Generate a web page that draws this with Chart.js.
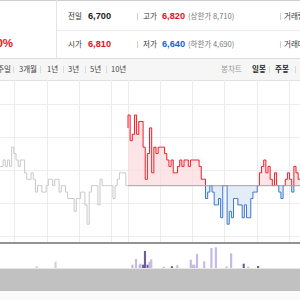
<!DOCTYPE html>
<html><head><meta charset="utf-8">
<script src="https://cdn.jsdelivr.net/npm/chart.js@4.4.1/dist/chart.umd.min.js"></script>
<style>
html,body{margin:0;padding:0;background:#fff;}
body{width:300px;height:300px;overflow:hidden;position:relative;font-family:"Noto Sans CJK KR","Noto Sans",sans-serif;}
.a{position:absolute;white-space:nowrap;line-height:10px;height:10px;}
.lb{font-size:7.5px;color:#333;}
.num{font-family:"Liberation Sans",Arial,sans-serif;font-weight:bold;font-size:9.2px;color:#222;}
.red{color:#e3121b;}
.blue{color:#1b5fd0;}
.sub{font-size:7.5px;color:#777;}
.sep{position:absolute;width:1px;background:#cfcfcf;}
.tb{font-size:7.5px;color:#444;}
#hdrTop{position:absolute;left:0;top:0;width:300px;height:1px;background:#cfcfcf;}
#vdiv{position:absolute;left:56px;top:0;width:1px;height:58px;background:#e4e4e4;}
#hdiv{position:absolute;left:57px;top:30px;width:243px;height:1px;background:#ececec;}
#toolbar{position:absolute;left:0;top:58px;width:300px;height:21px;background:#f6f6f6;border-top:1px solid #dcdcdc;border-bottom:1px solid #e2e2e2;}
#main{position:absolute;left:0;top:80px;}
#vol{position:absolute;left:0;top:243px;}
#volTop{position:absolute;left:0;top:242px;width:300px;height:2px;background:#929292;}
#scroll{position:absolute;left:0;top:268px;width:300px;height:22px;background:#c1c1c1;border-top:1px solid #e6e6e6;}
#below{position:absolute;left:0;top:291px;width:300px;height:9px;background:#fafafa;}
</style></head>
<body>
<div id="hdrTop"></div>
<div id="vdiv"></div>
<div id="hdiv"></div>
<div class="a red" style="left:-3.6px;top:37px;height:12px;line-height:12px;font-family:'Liberation Sans',Arial,sans-serif;font-weight:bold;font-size:11.5px;">0%</div>

<div class="a lb" style="left:68px;top:11px;">전일</div>
<div class="a num" style="left:88px;top:11px;">6,700</div>
<div class="sep" style="left:137px;top:13px;height:7px;"></div>
<div class="a lb" style="left:143px;top:11px;">고가</div>
<div class="a num red" style="left:162px;top:11px;">6,820</div>
<div class="a sub" style="left:188px;top:11px;">(상한가 8,710)</div>
<div class="sep" style="left:280px;top:13px;height:7px;"></div>
<div class="a lb" style="left:284px;top:11px;">거래량</div>

<div class="a lb" style="left:68px;top:39px;">시가</div>
<div class="a num red" style="left:88px;top:39px;">6,810</div>
<div class="sep" style="left:137px;top:41px;height:7px;"></div>
<div class="a lb" style="left:143px;top:39px;">저가</div>
<div class="a num blue" style="left:162px;top:39px;">6,640</div>
<div class="a sub" style="left:188px;top:39px;">(하한가 4,690)</div>
<div class="sep" style="left:280px;top:41px;height:7px;"></div>
<div class="a lb" style="left:284px;top:39px;">거래대금</div>

<div id="toolbar"></div>
<div class="a tb" style="left:-7px;top:64px;">1주일</div>
<div class="sep" style="left:13px;top:66px;height:7px;background:#dadada;"></div>
<div class="a tb" style="left:19px;top:64px;">3개월</div>
<div class="sep" style="left:40px;top:66px;height:7px;background:#dadada;"></div>
<div class="a tb" style="left:47px;top:64px;">1년</div>
<div class="sep" style="left:63px;top:66px;height:7px;background:#dadada;"></div>
<div class="a tb" style="left:68px;top:64px;">3년</div>
<div class="sep" style="left:85px;top:66px;height:7px;background:#dadada;"></div>
<div class="a tb" style="left:90px;top:64px;">5년</div>
<div class="sep" style="left:106px;top:66px;height:7px;background:#dadada;"></div>
<div class="a tb" style="left:111px;top:64px;">10년</div>
<div class="a tb" style="left:221px;top:64px;color:#999;">봉차트</div>
<div class="a tb" style="left:252px;top:64px;color:#222;font-weight:bold;">일봉</div>
<div class="sep" style="left:269px;top:66px;height:7px;background:#dadada;"></div>
<div class="a tb" style="left:275px;top:64px;color:#222;font-weight:bold;">주봉</div>
<div class="sep" style="left:295px;top:66px;height:7px;background:#dadada;"></div>

<canvas id="main" width="300" height="163"></canvas>
<canvas id="vol" width="300" height="25"></canvas>
<div id="volTop"></div>
<div id="scroll"></div>
<div id="below"></div>

<script>
// ---- data ----
const prevClose = 6700;
const intervalMin = 2;            // minutes between samples
const prevStartMin = -120;        // previous session samples, minutes relative to today's 9:00
const todayStartMin = 0;
const prevPrices = [6730,6730,6730,6740,6730,6740,6730,6760,6750,6740,6730,6740,6740,6720,6710,6710,6720,6710,6690,6700,6700,6690,6690,6700,6710,6710,6700,6710,6710,6690,6700,6700,6690,6680,6680,6680,6660,6680,6680,6690,6690,6670,6640,6690,6700,6700,6700,6670,6710,6700,6700,6700,6700,6700,6680,6700,6710,6720,6720,6720,6700];
const todayPrices = [6790,6810,6770,6780,6810,6780,6800,6800,6760,6710,6750,6790,6720,6760,6750,6760,6760,6760,6750,6740,6730,6740,6720,6720,6730,6740,6730,6740,6740,6730,6740,6740,6740,6740,6730,6710,6710,6680,6690,6700,6690,6670,6670,6680,6650,6700,6700,6640,6660,6650,6680,6680,6670,6670,6650,6670,6650,6650,6680,6690,6690,6700,6720,6730,6740,6720,6730,6710,6700,6720,6700,6690,6680,6700,6710,6720,6710,6690,6730,6720,6710];
const prevVolMinutes = [-105,-84];
const prevVolumes = [1500,6000];
const todayVolMinutes = [0,4,8,9,12,14,17,19,21,35,44,50,65,67,69,72,80,88,93,105,110,124,129,140];
const todayVolumes = [3000,8700,3000,4000,3000,16700,3000,6000,8300,1000,1500,2500,8000,3000,3000,13700,6300,19700,20300,1300,14300,4000,1000,1700];
const todayVolSide = ['u','u','u','u','d','d','d','u','u','u','d','u','u','u','u','u','u','u','u','u','u','d','u','d'];
const xGridMinutes = [-105,-75,-45,-15,0,30,60,90,120,150];
const yGridPrices = [6621,6672.5,6724,6775.5,6827];
const xRange = [-118.85,159.7];
const yRange = [6610.7,6864.6];
const volMax = 25000;

const prevSeries = prevPrices.map((v,i)=>({x:prevStartMin+i*intervalMin,y:v}));
const todaySeries = todayPrices.map((v,i)=>({x:todayStartMin+i*intervalMin,y:v}));
const baseSeries = [{x:todayStartMin,y:prevClose},{x:todayStartMin+(todayPrices.length-1)*intervalMin,y:prevClose}];

const RED='#ee1d28', BLUE='#3a76cf';
function splitColor(ctx){
  const chart=ctx.chart; const ca=chart.chartArea;
  if(!ca) return RED;
  const yb=chart.scales.y.getPixelForValue(prevClose);
  const t=Math.min(1,Math.max(0,(yb-ca.top)/(ca.bottom-ca.top)));
  const g=chart.ctx.createLinearGradient(0,ca.top,0,ca.bottom);
  g.addColorStop(0,RED);g.addColorStop(t,RED);g.addColorStop(t,BLUE);g.addColorStop(1,BLUE);
  return g;
}
const common={responsive:false,animation:false,devicePixelRatio:1,
  layout:{padding:0},
  plugins:{legend:{display:false},tooltip:{enabled:false}},
  elements:{point:{radius:0}}};

new Chart(document.getElementById('main'),{
  type:'line',
  data:{datasets:[
    {data:baseSeries,borderColor:'#a3a3a3',borderWidth:1,fill:false,order:0},
    {data:todaySeries,borderColor:splitColor,borderWidth:1,stepped:'after',order:1,
      fill:{target:{value:prevClose},above:'rgba(252,219,223,0.75)',below:'rgba(220,231,248,0.8)'}},
    {data:prevSeries,borderColor:'#c8c8c8',borderWidth:1,stepped:'after',fill:false,order:2}
  ]},
  options:Object.assign({},common,{
    scales:{
      x:{type:'linear',min:xRange[0],max:xRange[1],
        afterBuildTicks:s=>{s.ticks=xGridMinutes.map(v=>({value:v}));},
        ticks:{display:false},grid:{color:'#ececec',drawTicks:false},border:{display:false}},
      y:{type:'linear',min:yRange[0],max:yRange[1],
        afterBuildTicks:s=>{s.ticks=yGridPrices.map(v=>({value:v}));},
        ticks:{display:false},grid:{color:'#ededed',drawTicks:false},border:{display:false}}
    }})
});

new Chart(document.getElementById('vol'),{
  type:'bar',
  data:{datasets:[
    {data:prevVolMinutes.map((m,i)=>({x:m,y:prevVolumes[i]})),backgroundColor:'#d2d2d2',barThickness:1.5},
    {data:todayVolMinutes.map((m,i)=>({x:m,y:todayVolumes[i]})),
      backgroundColor:todayVolSide.map(s=>s==='d'?'#6e5b9d':'#c6b9e4'),barThickness:1.5}
  ]},
  options:Object.assign({},common,{
    scales:{
      x:{type:'linear',min:xRange[0],max:xRange[1],display:false,stacked:false},
      y:{min:0,max:volMax,display:false}
    }})
});
</script>
</body></html>
